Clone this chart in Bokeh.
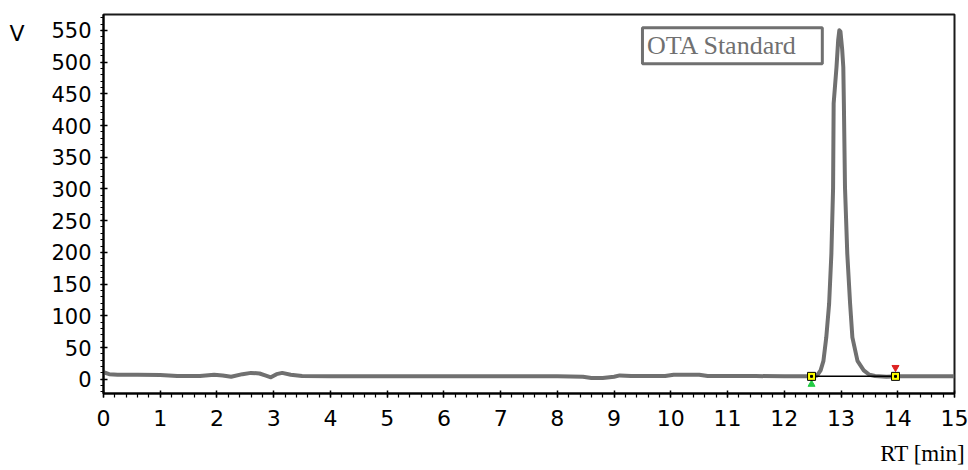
from bokeh.plotting import figure
from bokeh.models import (SingleIntervalTicker, FixedTicker, LinearAxis, Label,
                          BoxAnnotation, Range1d)
from bokeh.embed import file_html
from bokeh.resources import INLINE

# ---- data ----
rt_min = [0.00, 0.10, 0.25, 0.60, 1.00, 1.15, 1.30, 1.70, 1.95, 2.10, 2.25, 2.45,
          2.60, 2.75, 2.85, 2.95, 3.05, 3.15, 3.30, 3.50, 4.00, 5.00, 6.00, 7.00,
          8.00, 8.45, 8.60, 8.80, 9.00, 9.10, 9.30, 9.90, 10.05, 10.50, 10.65, 11.00,
          11.50, 12.00, 12.30, 12.50, 12.58, 12.64, 12.69, 12.74, 12.79, 12.83, 12.86,
          12.87, 12.92, 12.95, 12.97, 12.99, 13.02, 13.04, 13.05, 13.07, 13.11, 13.16,
          13.20, 13.29, 13.40, 13.50, 13.60, 13.80, 14.00, 14.50, 15.00]
signal_v = [11, 8, 7, 7, 6.5, 6, 5, 5, 7, 6, 4, 8,
            10, 9, 6, 3, 8, 10, 7, 5, 4.5, 4.5, 4.5, 4.5,
            4.5, 4, 2, 2, 4, 6, 5, 5, 7, 7, 5, 5,
            5, 4.5, 4.5, 4.5, 6, 14, 29, 66, 119, 198, 302,
            435, 492, 535, 550, 548, 520, 492, 435, 302, 198, 119,
            66, 29, 14, 7, 5, 4, 4.5, 4.5, 4.5]

peak_start_rt = 12.48
peak_end_rt = 13.96
peak_base_v = 4.5

x_ticks_interval = 1
y_ticks_interval = 50
series_name = "OTA Standard"
y_unit = "V"
y_unit_at = 545
x_title = "RT [min]"
x_title_at = 14.44

GRAY = "#707070"

p = figure(width=968, height=470, output_backend="svg", toolbar_location=None,
           x_range=Range1d(0, 15), y_range=Range1d(-22.5, 575),
           min_border_left=103, min_border_right=14, min_border_top=14,
           min_border_bottom=77)

p.grid.visible = False
p.outline_line_color = "#1a1a1a"
p.outline_line_width = 2
p.background_fill_color = "white"
p.border_fill_color = "white"

p.xaxis.ticker = SingleIntervalTicker(interval=x_ticks_interval, num_minor_ticks=5)
p.yaxis.ticker = SingleIntervalTicker(interval=y_ticks_interval, num_minor_ticks=5)

for ax in (p.xaxis, p.yaxis):
    ax.axis_line_color = "black"
    ax.axis_line_width = 2
    ax.major_tick_line_color = "black"
    ax.minor_tick_line_color = "black"
    ax.major_tick_line_width = 1.5
    ax.minor_tick_line_width = 1.2
    ax.major_label_text_font = "DejaVu Sans"
    ax.major_label_text_color = "black"

p.xaxis.major_tick_in = 3
p.xaxis.major_tick_out = 4
p.xaxis.minor_tick_in = 0
p.xaxis.minor_tick_out = 4
p.xaxis.major_label_text_font_size = "22px"
p.xaxis.major_label_standoff = 12

p.yaxis.major_tick_in = 4
p.yaxis.major_tick_out = 3
p.yaxis.minor_tick_in = 0
p.yaxis.minor_tick_out = 3
p.yaxis.major_label_text_font_size = "21px"
p.yaxis.major_label_standoff = 9


def label_axis(tick, text, font, size, standoff):
    return LinearAxis(ticker=FixedTicker(ticks=[tick], minor_ticks=[]),
                      major_label_overrides={tick: text},
                      axis_line_color=None, major_tick_line_color=None,
                      minor_tick_line_color=None, major_tick_in=0, major_tick_out=0,
                      minor_tick_in=0, minor_tick_out=0,
                      major_label_standoff=standoff, major_label_text_font=font,
                      major_label_text_font_size=size,
                      major_label_text_color="black")


# unit "V" near the top left, and the x title at the lower right
p.add_layout(label_axis(y_unit_at, y_unit, "DejaVu Sans", "22px", 24), "left")
p.add_layout(label_axis(x_title_at, x_title, "Liberation Serif", "23px", 12), "below")

# chromatogram trace
p.line(rt_min, signal_v, line_color=GRAY, line_width=4, line_join="round")

# integration baseline + peak markers
p.line([peak_start_rt, peak_end_rt], [peak_base_v, peak_base_v],
       line_color="black", line_width=1.5)
p.scatter([peak_start_rt], [peak_base_v - 12.5], marker="triangle", size=7,
          fill_color="#22cc44", line_color="#22cc44")
p.scatter([peak_end_rt], [peak_base_v + 14], marker="inverted_triangle", size=7,
          fill_color="#dd2222", line_color="#dd2222")
p.scatter([peak_start_rt, peak_end_rt], [peak_base_v, peak_base_v], marker="square",
          size=8, fill_color="#ffff00", line_color="black", line_width=1)
p.scatter([peak_start_rt, peak_end_rt], [peak_base_v, peak_base_v], marker="square",
          size=2, fill_color="black", line_color="black")

# legend-like label box
p.add_layout(BoxAnnotation(left=9.50, right=12.67, top=554, bottom=497.5,
                           fill_color=None, line_color=GRAY, line_alpha=1.0,
                           line_width=3))
p.add_layout(Label(x=9.58, y=526, text=series_name, text_font="Liberation Serif",
                   text_font_size="26px", text_color=GRAY, text_baseline="middle",
                   text_align="left"))

open("out.html", "w").write(file_html(p, INLINE))
